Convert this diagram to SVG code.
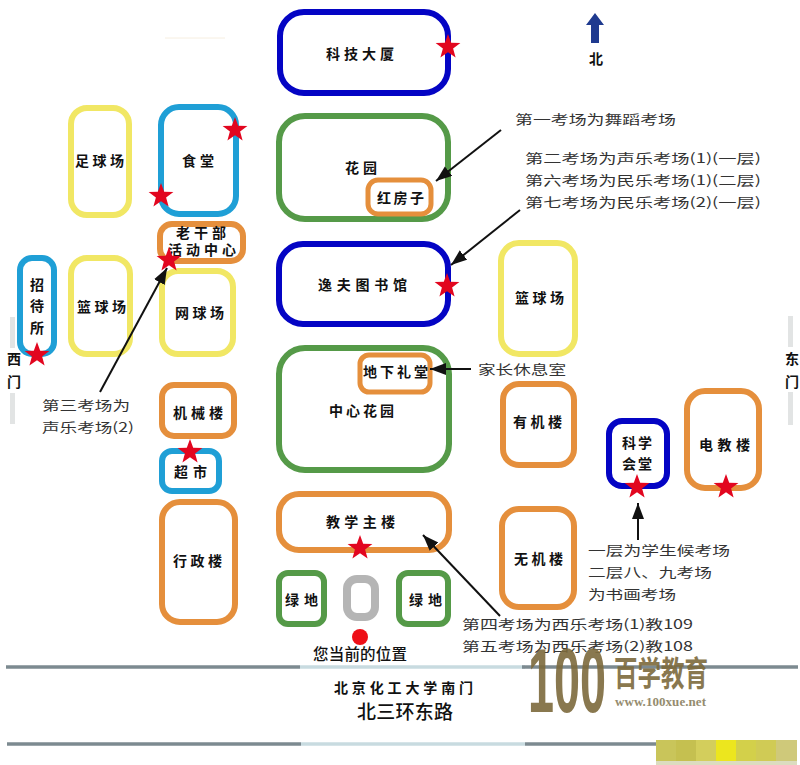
<svg xmlns="http://www.w3.org/2000/svg" xmlns:xlink="http://www.w3.org/1999/xlink" width="800" height="765" viewBox="0 0 800 765">
<style>
text{font-family:"Noto Sans CJK SC","Liberation Sans",sans-serif;fill:#111}
.n{font-size:14px;font-weight:700;dominant-baseline:central;transform:translateY(-1px)}
.a{font-size:13px;fill:#333;dominant-baseline:central;transform:translateY(-1px)}
.box{fill:#fff;stroke-width:6}
.blue{stroke:#0404c4}.green{stroke:#559a48}.orange{stroke:#e58f3c}.yellow{stroke:#f1e764}.cyan{stroke:#1f9fd6}.gray{stroke:#b5b5b5}
.road{stroke-width:3.5;fill:none}
.dark{stroke:#7c8a90}.light{stroke:#c8dbe0}
.gate{fill:#e2e4e4}
.c{stroke:#111;stroke-width:2;fill:none;marker-end:url(#arr)}
</style>
<defs>
<marker id="arr" markerUnits="userSpaceOnUse" markerWidth="18" markerHeight="14" refX="16" refY="6" orient="auto"><path d="M0 0L16 6L0 12Z" fill="#111"/></marker>
<polygon id="star" points="0,-13 3.2,-4.2 12.4,-4 5.1,1.6 7.6,10.5 0,5.3 -7.6,10.5 -5.1,1.6 -12.4,-4 -3.2,-4.2" fill="#e2061f"/>
</defs>
<rect width="800" height="765" fill="#fff"/>
<g id="roads">
<path class="road dark" d="M6 667H300"/><path class="road light" d="M300 667H525"/><path class="road dark" d="M522 667H798"/>
<path class="road dark" d="M7 744H301"/><path class="road light" d="M301 744H525"/><path class="road dark" d="M525 744H656"/>
<line x1="165" y1="38" x2="225" y2="38" stroke="#f6eee0"/>
</g>
<g id="gates">
<rect class="gate" x="10" y="317" width="5" height="31"/><rect class="gate" x="10" y="393" width="5" height="31"/>
<rect class="gate" x="788" y="316" width="5" height="31"/><rect class="gate" x="788" y="392" width="5" height="33"/>
<text class="n" x="14" y="359" text-anchor="middle">西</text><text class="n" x="14" y="382" text-anchor="middle">门</text>
<text class="n" x="792" y="359" text-anchor="middle">东</text><text class="n" x="792" y="382" text-anchor="middle">门</text>
</g>
<g id="node-keji"><rect class="box blue" x="280" y="12" width="168" height="81" rx="24"/><text class="n" x="326" y="54" textLength="68" lengthAdjust="spacing">科技大厦</text><use xlink:href="#star" href="#star" x="448" y="47"/></g>
<g id="node-huayuan"><rect class="box green" x="279" y="116" width="169" height="103" rx="26"/><text class="n" x="345" y="168" textLength="32">花园</text></g>
<g id="node-hongfang"><rect class="box orange" x="368" y="180" width="63" height="34" rx="10" style="stroke-width:5"/><text class="n" x="377" y="198" textLength="47">红房子</text></g>
<g id="node-yifu"><rect class="box blue" x="279" y="244" width="169" height="80" rx="24"/><text class="n" x="318" y="285" textLength="89">逸夫图书馆</text><use xlink:href="#star" href="#star" x="447" y="286"/></g>
<g id="node-zhongxin"><rect class="box green" x="279" y="348" width="170" height="122" rx="26"/><text class="n" x="329" y="411" textLength="65">中心花园</text></g>
<g id="node-litang"><rect class="box orange" x="360" y="355" width="70" height="37" rx="9" style="stroke-width:5"/><text class="n" x="363" y="372" textLength="65">地下礼堂</text></g>
<g id="node-zhulou"><rect class="box orange" x="279" y="494" width="170" height="56" rx="20"/><text class="n" x="326" y="522" textLength="69">教学主楼</text><use xlink:href="#star" href="#star" x="360" y="548"/></g>
<g id="node-lvdi1"><rect class="box green" x="279" y="573" width="45" height="51" rx="9"/><text class="n" x="285" y="600" textLength="33">绿地</text></g>
<g id="node-gray"><rect class="box gray" x="347" y="579" width="28" height="38" rx="10" style="stroke-width:8"/></g>
<g id="node-lvdi2"><rect class="box green" x="399" y="573" width="49" height="51" rx="9"/><text class="n" x="409" y="600" textLength="33">绿地</text></g>
<g id="node-zuqiu"><rect class="box yellow" x="71" y="108" width="58" height="107" rx="16"/><text class="n" x="75" y="161" textLength="49">足球场</text></g>
<g id="node-shitang"><rect class="box cyan" x="161" y="107" width="75" height="107" rx="18"/><text class="n" x="182" y="161" textLength="32">食堂</text><use xlink:href="#star" href="#star" x="235" y="130"/><use xlink:href="#star" href="#star" x="161" y="196"/></g>
<g id="node-wangqiu"><rect class="box yellow" x="162" y="271" width="71" height="83" rx="16"/><text class="n" x="175" y="313" textLength="49">网球场</text></g>
<g id="node-laogan"><rect class="box orange" x="160" y="224" width="83" height="37" rx="12"/><text class="n" x="176" y="233" textLength="50">老干部</text><text class="n" x="168" y="250" textLength="68">活动中心</text><use xlink:href="#star" href="#star" x="169" y="260"/></g>
<g id="node-zhaodai"><rect class="box cyan" x="20" y="258" width="34" height="96" rx="12"/><text class="n" x="37" y="285" text-anchor="middle">招</text><text class="n" x="37" y="306" text-anchor="middle">待</text><text class="n" x="37" y="328" text-anchor="middle">所</text><use xlink:href="#star" href="#star" x="37" y="355"/></g>
<g id="node-lanqiu1"><rect class="box yellow" x="71" y="258" width="59" height="96" rx="16"/><text class="n" x="77" y="307" textLength="49">篮球场</text></g>
<g id="node-jixie"><rect class="box orange" x="162" y="385" width="72" height="51" rx="12"/><text class="n" x="173" y="413" textLength="50">机械楼</text></g>
<g id="node-chaoshi"><rect class="box cyan" x="162" y="451" width="57" height="40" rx="10"/><text class="n" x="174" y="472" textLength="33">超市</text><use xlink:href="#star" href="#star" x="190" y="452"/></g>
<g id="node-xingzheng"><rect class="box orange" x="162" y="502" width="73" height="120" rx="18"/><text class="n" x="173" y="561" textLength="49">行政楼</text></g>
<g id="node-lanqiu2"><rect class="box yellow" x="501" y="243" width="74" height="111" rx="18"/><text class="n" x="515" y="298" textLength="49">篮球场</text></g>
<g id="node-youji"><rect class="box orange" x="503" y="384" width="71" height="81" rx="16"/><text class="n" x="513" y="422" textLength="49">有机楼</text></g>
<g id="node-wuji"><rect class="box orange" x="502" y="509" width="72" height="98" rx="17"/><text class="n" x="514" y="559" textLength="49">无机楼</text></g>
<g id="node-huitang"><rect class="box blue" x="609" y="421" width="58" height="65" rx="13"/><text class="n" x="622" y="443" textLength="30">科学</text><text class="n" x="622" y="464" textLength="30">会堂</text><use xlink:href="#star" href="#star" x="637" y="487"/></g>
<g id="node-dianjiao"><rect class="box orange" x="687" y="391" width="72" height="97" rx="18"/><text class="n" x="699" y="445" textLength="51">电教楼</text><use xlink:href="#star" href="#star" x="726" y="487"/></g>
<g id="node-north"><path d="M595 13L604 25H599V43H591V25H586Z" fill="#1f3a8f"/><text class="n" x="589" y="59" textLength="13">北</text></g>
<g id="connectors">
<path class="c" d="M501 130L436 181"/>
<path class="c" d="M520 210L451 265"/>
<path class="c" d="M471 369L430 369"/>
<path class="c" d="M100 392L167 268"/>
<path class="c" d="M638 540L638 503"/>
<path class="c" d="M500 616L423 535"/>
</g>
<g id="labels">
<text class="a" x="515" y="119" textLength="161" lengthAdjust="spacingAndGlyphs">第一考场为舞蹈考场</text>
<text class="a" x="525" y="158" textLength="236" lengthAdjust="spacingAndGlyphs">第二考场为声乐考场(1)(一层)</text>
<text class="a" x="525" y="180" textLength="236" lengthAdjust="spacingAndGlyphs">第六考场为民乐考场(1)(二层)</text>
<text class="a" x="525" y="202" textLength="236" lengthAdjust="spacingAndGlyphs">第七考场为民乐考场(2)(一层)</text>
<text class="a" x="42" y="405" textLength="88" lengthAdjust="spacingAndGlyphs">第三考场为</text>
<text class="a" x="42" y="427" textLength="92" lengthAdjust="spacingAndGlyphs">声乐考场(2)</text>
<text class="a" x="478" y="369" textLength="88" lengthAdjust="spacingAndGlyphs">家长休息室</text>
<text class="a" x="588" y="550" textLength="142" lengthAdjust="spacingAndGlyphs">一层为学生候考场</text>
<text class="a" x="588" y="572" textLength="124" lengthAdjust="spacingAndGlyphs">二层八、九考场</text>
<text class="a" x="588" y="594" textLength="88" lengthAdjust="spacingAndGlyphs">为书画考场</text>
<text class="a" x="462" y="624" textLength="231" lengthAdjust="spacingAndGlyphs">第四考场为西乐考场(1)教109</text>
<text class="a" x="462" y="646" textLength="231" lengthAdjust="spacingAndGlyphs">第五考场为西乐考场(2)教108</text>
<text x="313" y="660" font-size="15.5" font-weight="500" textLength="94">您当前的位置</text>
<text class="n" x="334" y="688" textLength="139">北京化工大学南门</text>
<text x="357" y="719" font-size="19" font-weight="500" textLength="96">北三环东路</text>
</g>
<circle id="here" cx="360" cy="637" r="8" fill="#ee0f17"/>
<g id="logo" opacity="0.9">
<text x="528" y="712" style="font-family:'Liberation Sans',sans-serif;fill:#7d6a3c" font-size="90" font-weight="700" textLength="78" lengthAdjust="spacingAndGlyphs">100</text>
<text x="614" y="686" style="fill:#7d6a3c" font-size="34" font-weight="700" textLength="94" lengthAdjust="spacingAndGlyphs">百学教育</text>
<text x="615" y="706" style="font-family:'Liberation Serif',serif;fill:#8a7f60" font-size="13" font-weight="700" textLength="91">www.100xue.net</text>
</g>
<g id="mosaic">
<rect x="656" y="740" width="20" height="21" fill="#c9c55a"/><rect x="676" y="740" width="20" height="21" fill="#c5c050"/><rect x="696" y="740" width="20" height="21" fill="#d3ce5c"/><rect x="716" y="740" width="20" height="21" fill="#ece61e"/><rect x="736" y="740" width="20" height="21" fill="#d3d04a"/><rect x="756" y="740" width="20" height="21" fill="#d0cb55"/><rect x="776" y="740" width="21" height="21" fill="#cfc97a"/>
<rect x="656" y="761" width="141" height="4" fill="#dcdcc0"/>
</g>
</svg>
